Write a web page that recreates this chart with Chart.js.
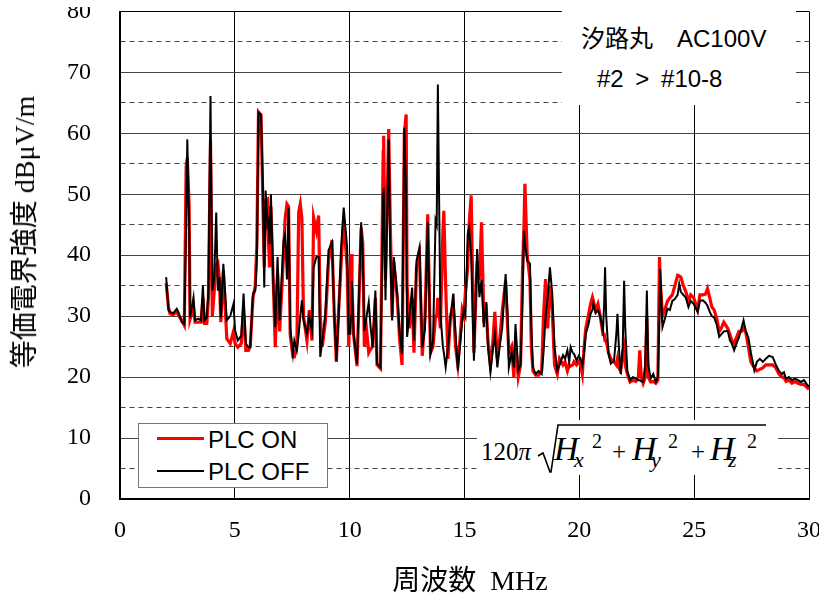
<!DOCTYPE html>
<html>
<head>
<meta charset="utf-8">
<script src="https://cdn.jsdelivr.net/npm/chart.js@4.4.1/dist/chart.umd.min.js"></script>
<style>
  html, body { margin: 0; padding: 0; background: #fff; }
  body { width: 819px; height: 595px; position: relative; overflow: hidden; }
  #wrap { position: absolute; left: 0; top: -32px; width: 838px; height: 627px; }
  .ov { position: absolute; z-index: 2; }
  .serifjp { font-family: "Liberation Serif", "Noto Sans CJK JP", serif; color: #000; white-space: pre; line-height: 1; }
  #xtitle { left: 470px; top: 581px; font-size: 28px; transform: translate(-50%, -50%); }
  #ytitle { left: 25px; top: 232px; font-size: 28px; transform: translate(-50%, -50%) rotate(-90deg); }
  #topcut { left: 40px; top: 0; width: 75px; height: 7px; background: #fff; }
  #legend { left: 138px; top: 423px; width: 190px; height: 65px; box-sizing: border-box;
            border: 1.5px solid #777; background: #fff; }
  #legend .ln { position: absolute; left: 18px; width: 47px; }
  #legend .tx { position: absolute; left: 69px; font: 24px "Liberation Sans", Arial, sans-serif; line-height: 1; }
  #note { left: 562px; top: 11px; width: 234px; height: 94px; background: #fff;
          font: 24px "Liberation Sans", "Noto Sans CJK JP", sans-serif; line-height: 1; white-space: pre; }
  #note div { position: absolute; }
  #formula { left: 477px; top: 420px; width: 301px; height: 55px; background: #fff; }
</style>
</head>
<body>
<div id="wrap"><canvas id="myChart" width="838" height="627"></canvas></div>

<div class="ov" id="topcut"></div>
<div class="ov serifjp" id="xtitle">周波数  MHz</div>
<div class="ov serifjp" id="ytitle">等価電界強度 dBμV/m</div>

<div class="ov" id="legend">
  <div class="ln" style="top:13px;height:3px;background:#ff0000;"></div>
  <div class="tx" style="top:4px;">PLC ON</div>
  <div class="ln" style="top:46px;height:2px;background:#000;"></div>
  <div class="tx" style="top:36px;">PLC OFF</div>
</div>

<div class="ov" id="note">
  <div style="left:19px;top:16px;">汐路丸　AC100V</div>
  <div style="left:35px;top:56px;word-spacing:5px;">#2 &gt; #10-8</div>
</div>

<svg class="ov" id="formula" width="301" height="55" viewBox="0 0 301 55">
  <g font-family="Liberation Serif, serif" fill="#000">
    <text x="4" y="40" font-size="25">120<tspan font-style="italic">π</tspan></text>
    <path d="M61 36 L66 33 L73 52 L74 52 L81 5 L289 5" fill="none" stroke="#000" stroke-width="1.6"/>
    <text x="77" y="40" font-size="34" font-style="italic">H</text>
    <text x="97" y="47" font-size="22" font-style="italic">x</text>
    <text x="115" y="28" font-size="20">2</text>
    <text x="135" y="40" font-size="25">+</text>
    <text x="155" y="40" font-size="34" font-style="italic">H</text>
    <text x="174" y="47" font-size="22" font-style="italic">y</text>
    <text x="191" y="28" font-size="20">2</text>
    <text x="214" y="40" font-size="25">+</text>
    <text x="233" y="40" font-size="34" font-style="italic">H</text>
    <text x="251" y="47" font-size="22" font-style="italic">z</text>
    <text x="270" y="28" font-size="20">2</text>
  </g>
</svg>

<script>
// frequency (MHz), shared by both traces
const freqMHz = [
  2.01, 2.11, 2.18, 2.32, 2.47, 2.54, 2.69, 2.80, 2.88, 2.93,
  3.01, 3.05, 3.20, 3.27, 3.41, 3.53, 3.61, 3.68, 3.78, 3.85,
  3.94, 4.02, 4.10, 4.19, 4.26, 4.33, 4.39, 4.50, 4.65, 4.80,
  4.94, 5.01, 5.13, 5.28, 5.38, 5.48, 5.59, 5.67, 5.79, 5.89,
  5.96, 6.03, 6.14, 6.22, 6.28, 6.34, 6.42, 6.47, 6.51, 6.57,
  6.68, 6.76, 6.86, 6.95, 7.12, 7.19, 7.27, 7.34, 7.41, 7.53,
  7.59, 7.70, 7.78, 7.85, 7.92, 7.99, 8.14, 8.24, 8.36, 8.43,
  8.55, 8.65, 8.72, 8.81, 8.94, 9.08, 9.23, 9.33, 9.42, 9.52,
  9.62, 9.74, 9.89, 9.96, 10.03, 10.06, 10.10, 10.17, 10.32, 10.50,
  10.57, 10.64, 10.73, 10.83, 10.90, 11.00, 11.12, 11.19, 11.34, 11.46,
  11.48, 11.56, 11.70, 11.77, 11.85, 11.92, 12.07, 12.18, 12.28, 12.38,
  12.46, 12.50, 12.60, 12.72, 12.80, 12.91, 13.04, 13.16, 13.28, 13.40,
  13.52, 13.63, 13.74, 13.79, 13.84, 13.95, 14.06, 14.10, 14.18, 14.28,
  14.39, 14.51, 14.61, 14.71, 14.80, 14.90, 14.97, 15.04, 15.14, 15.20,
  15.29, 15.41, 15.55, 15.65, 15.74, 15.84, 15.95, 16.02, 16.13, 16.22,
  16.32, 16.43, 16.53, 16.64, 16.79, 16.88, 16.93, 17.05, 17.15, 17.22,
  17.34, 17.44, 17.53, 17.59, 17.63, 17.73, 17.85, 17.91, 17.98, 18.10,
  18.23, 18.36, 18.44, 18.53, 18.62, 18.72, 18.82, 18.92, 19.04, 19.14,
  19.29, 19.38, 19.48, 19.56, 19.62, 19.71, 19.77, 19.88, 19.97, 20.06,
  20.13, 20.21, 20.28, 20.39, 20.49, 20.57, 20.61, 20.71, 20.81, 20.91,
  21.03, 21.08, 21.12, 21.17, 21.27, 21.37, 21.51, 21.61, 21.66, 21.72,
  21.80, 21.89, 21.95, 22.00, 22.09, 22.21, 22.33, 22.46, 22.57, 22.63,
  22.70, 22.78, 22.87, 22.94, 23.00, 23.11, 23.22, 23.33, 23.42, 23.49,
  23.52, 23.62, 23.72, 23.84, 23.94, 24.05, 24.16, 24.28, 24.35, 24.42,
  24.53, 24.64, 24.75, 24.85, 24.98, 25.15, 25.25, 25.38, 25.49, 25.58,
  25.68, 25.77, 25.87, 25.99, 26.09, 26.18, 26.29, 26.46, 26.56, 26.64,
  26.74, 26.84, 26.95, 27.06, 27.15, 27.25, 27.36, 27.47, 27.62, 27.73,
  27.86, 27.99, 28.12, 28.26, 28.42, 28.56, 28.69, 28.82, 28.91, 29.00,
  29.13, 29.26, 29.39, 29.52, 29.65, 29.78, 29.91, 30.00
];

// PLC OFF (black), dBuV/m
const plcOff = [
  36.4, 31.0, 30.7, 30.5, 31.2, 30.7, 29.0, 28.7, 45, 59.0,
  45, 29.8, 33.1, 29.3, 29.6, 29.3, 35.0, 29.3, 29.8, 34.2,
  66.1, 34.2, 36, 47.0, 34.2, 36.4, 29.8, 38.6, 29.3, 30.0,
  32.0, 27.7, 26.0, 26.8, 33.7, 25.5, 24.9, 24.9, 33.7, 34.2,
  39.4, 63.4, 63.1, 51.7, 34.7, 50.6, 45, 45.7, 41.8, 50.0,
  34.7, 28.2, 39.7, 29.3, 42.4, 43.5, 36, 47.8, 28.2, 23.8,
  26, 24.4, 27, 30, 32.6, 29.3, 27.1, 30, 27.6, 38.0,
  39.7, 39.7, 23.3, 26, 30.4, 40.8, 42.1, 30.4, 22.7, 30,
  40.8, 47.8, 41.3, 27.1, 27.1, 30, 35.8, 27.1, 22.2, 45.4,
  40, 27.6, 29.8, 32.3, 28.7, 24.9, 34.2, 22.2, 21.6, 50.0,
  51, 32.6, 59.0, 40, 29.3, 39.7, 33.7, 27.1, 23.8, 60.9,
  50, 26.6, 30, 34.7, 26, 39.1, 41.3, 24.9, 28, 45.4,
  23.8, 26, 45.7, 45, 68.0, 30.4, 25, 24, 21.6, 25,
  29.8, 33.7, 27.1, 21.1, 25, 29.3, 30.9, 30, 43.5, 44.5,
  40, 22.7, 41.0, 33.1, 36, 28.2, 32.3, 25, 20.8, 24,
  27, 21.6, 25, 28, 36.9, 30, 21.6, 24, 21.6, 28.7,
  21.1, 22, 33, 44.0, 42, 39.1, 38.6, 28.2, 21.6, 20.5,
  21, 20.5, 24, 30, 33, 38.0, 33.7, 25, 21.1, 22,
  23.6, 23, 24.4, 22.5, 24.9, 24.0, 23.8, 22.7, 23.5, 23.0,
  21.9, 24, 27.1, 28.5, 30.4, 31, 32.0, 30.5, 30.9, 30,
  27.6, 32, 38.0, 30, 23.8, 22.2, 22.7, 27, 30.4, 25,
  20.5, 25, 35.8, 28, 21, 19.5, 20, 19.8, 19.5, 19.5,
  19.3, 19.2, 22, 34.2, 22, 19.8, 20.5, 19.2, 20, 30,
  37.7, 28.2, 29.5, 31.2, 31, 32.5, 32.8, 33.5, 35.3, 34,
  33.5, 33, 31.5, 32.5, 32, 30.7, 32.5, 32.6, 32.2, 31.7,
  30.7, 30, 29.8, 28.5, 26.6, 27, 27.5, 27.6, 26, 25.5,
  24.4, 25.5, 26.5, 28, 29.3, 27.5, 26.5, 24, 21.1, 22.5,
  23, 22.5, 23, 23.5, 23.3, 22, 21, 20.5, 20.8, 19.7,
  20, 19.5, 19.8, 19.5, 19.2, 19.5, 18.8, 18.4
];

// PLC ON (red), dBuV/m
const plcOn = [
  35.4, 31.5, 30.4, 30.2, 30.8, 30.2, 29.3, 28.5, 54.5, 56.0,
  48, 29.5, 31.5, 29.0, 29.0, 29.0, 33.0, 28.8, 28.8, 33.0,
  58.8, 30.0, 34, 38.5, 38.8, 36.0, 29.0, 37.5, 26.3, 25.5,
  27.5, 25.5, 24.9, 25.5, 31.0, 24.4, 24.4, 25, 33.0, 35,
  42, 63.5, 63.0, 49, 38, 49.0, 49.2, 42, 38, 48.0,
  35, 24.9, 37, 27.5, 40, 46, 48.4, 48.0, 27, 23.3,
  23.3, 25, 47, 48.4, 46, 30, 26, 31, 26, 46.2,
  44, 46.5, 30, 25, 29, 39, 42.5, 30, 22.5, 31,
  38, 46, 38, 25, 36, 40.2, 35, 27, 21.8, 44.5,
  42, 25, 28, 24, 24.5, 25, 33, 22, 21.4, 57,
  59.6, 36, 60.7, 45, 30, 39, 33, 26, 22, 60,
  63.1, 35, 28, 33, 24, 38, 40, 23.5, 30, 46.7,
  24, 25, 30, 30, 33, 28, 44, 47.3, 35, 23,
  30, 32, 25, 22, 26, 31, 30, 34, 38, 45,
  49.8, 24, 39, 36, 45.4, 30, 31, 26, 22, 25,
  30.7, 23, 26, 30.7, 35.8, 28, 24, 25, 20, 26,
  20, 22, 38, 45, 51.7, 40, 36, 25, 21, 20.3,
  20.3, 21, 30, 36.1, 28, 35, 31, 22, 20.5, 23,
  22, 22.5, 21, 22, 21.8, 22, 22.5, 22, 22.5, 22,
  20.5, 25, 28, 30, 32, 33.1, 32.5, 31, 32, 30,
  27, 27, 26, 26, 24, 23, 22.5, 22, 23, 21.5,
  21, 24, 25, 22, 20.5, 19.2, 19.5, 19.3, 20, 24.4,
  20, 19, 20, 29.8, 20, 19.2, 19.3, 19, 19.5, 39.7,
  36, 30, 31, 32.5, 33, 33.5, 35, 36.7, 36.6, 36.4,
  35, 34, 32.5, 33.5, 33, 31, 33.5, 33.5, 33.6, 34.5,
  33, 31.5, 31, 29.5, 27.5, 28, 29, 28, 27, 26,
  25.5, 26.5, 27.5, 27.5, 28, 27.3, 25, 22.5, 21.5, 21,
  21.3, 21.5, 22, 22, 22, 21.5, 20.5, 20, 20, 19.3,
  19.5, 19, 19.3, 19, 18.8, 18.8, 18.3, 18
];

// axes
const xMin = 0, xMax = 30, xStep = 5;
const yMin = 0, yMax = 80, yLabelStep = 10, yGridStep = 5;

document.addEventListener("DOMContentLoaded", function () {
  const ctx = document.getElementById("myChart").getContext("2d");
  Chart.defaults.font.family = "'Liberation Serif', 'Times New Roman', serif";
  Chart.defaults.color = "#000";

  new Chart(ctx, {
    type: "line",
    data: {
      datasets: [
        {
          label: "PLC OFF",
          data: freqMHz.map((f, i) => ({ x: f, y: plcOff[i] })),
          borderColor: "#000000",
          borderWidth: 2,
          pointRadius: 0,
          tension: 0,
          order: 1,
        },
        {
          label: "PLC ON",
          data: freqMHz.map((f, i) => ({ x: f, y: plcOn[i] })),
          borderColor: "#ff0000",
          borderWidth: 3.2,
          pointRadius: 0,
          tension: 0,
          order: 2,
        },
      ],
    },
    options: {
      responsive: false,
      animation: false,
      devicePixelRatio: 1,
      layout: { padding: 0 },
      plugins: { legend: { display: false }, tooltip: { enabled: false } },
      scales: {
        x: {
          type: "linear",
          min: xMin,
          max: xMax,
          afterFit: (s) => { s.height = 96; },
          ticks: { stepSize: xStep, padding: 17, font: { size: 24 }, maxRotation: 0, autoSkip: false },
          grid: { color: "#000", lineWidth: 1, drawTicks: false },
          border: { color: "#000", width: 2 },
        },
        y: {
          min: yMin,
          max: yMax,
          afterFit: (s) => { s.width = 120; },
          ticks: {
            stepSize: yGridStep,
            padding: 29,
            autoSkip: false,
            font: { size: 24 },
            callback: (v) => (v % yLabelStep === 0 ? v : ""),
          },
          grid: {
            color: (c) => (c.tick && c.tick.value === yMax ? "#000" : "#444"),
            lineWidth: 1,
            drawTicks: false,
          },
          border: {
            color: "#000",
            width: 1.5,
            dash: (c) => (c.tick && c.tick.value % yLabelStep !== 0 ? [5, 4] : []),
          },
        },
      },
    },
  });
});
</script>
</body>
</html>
